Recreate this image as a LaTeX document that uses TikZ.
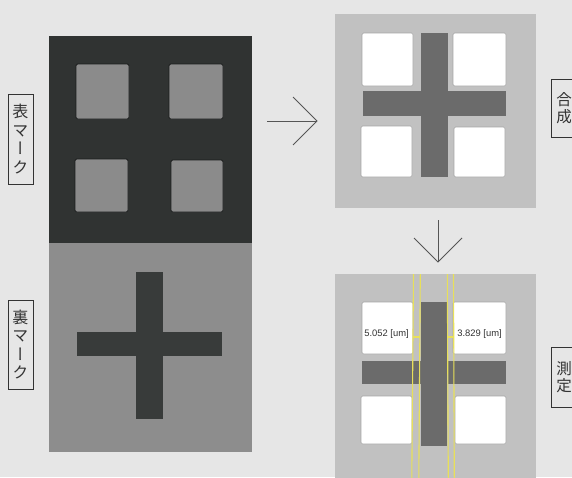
\documentclass[tikz,border=0pt]{standalone}
\usepackage{fontspec}
\newfontfamily\jpfont[RawFeature={+vert}]{Noto Sans CJK JP}
\newfontfamily\measfont{Liberation Sans}
\definecolor{bgc}{HTML}{E6E6E6}
\definecolor{darkpanel}{HTML}{303332}
\definecolor{graysq}{HTML}{8B8B8B}
\definecolor{sqedge}{HTML}{1C1E1E}
\definecolor{midpanel}{HTML}{8D8D8D}
\definecolor{darkcross}{HTML}{383B3A}
\definecolor{lightpanel}{HTML}{C1C1C1}
\definecolor{midcross}{HTML}{6B6B6B}
\definecolor{whiteedge}{HTML}{A5A5A5}
\definecolor{ylw}{HTML}{E8E05A}
\definecolor{txt}{HTML}{333333}
\definecolor{arrowc}{HTML}{555555}
\tikzset{
  graysquare/.style={fill=graysq,draw=sqedge,line width=0.9pt,rounded corners=1.5pt},
  whitesquare/.style={fill=white,draw=whiteedge,line width=0.6pt,rounded corners=1.5pt},
  lbl/.style={draw=txt,line width=0.6pt,fill=bgc,inner sep=0pt,text=txt,align=center},
  meas/.style={font=\measfont\fontsize{9.4}{10}\selectfont,text=txt,inner sep=0pt},
  yline/.style={draw=ylw,line width=1.1pt},
  arr/.style={draw=arrowc,line width=0.8pt}
}
\begin{document}
\begin{tikzpicture}[x=1pt,y=-1pt]
\useasboundingbox (0,0) rectangle (572,477);
\clip (0,0) rectangle (572,477);
\fill[bgc] (0,0) rectangle (572,477);
% ---- left panel
\fill[darkpanel] (49,36) rectangle (252,243);
\fill[midpanel] (49,243) rectangle (252,452);
\draw[graysquare] (76,64) rectangle (129,119);
\draw[graysquare] (169,64) rectangle (223,119);
\draw[graysquare] (75,159) rectangle (128,212);
\draw[graysquare] (171,160) rectangle (223,212);
\fill[darkcross] (136,272) rectangle (163,419);
\fill[darkcross] (77,332) rectangle (222,356);
% ---- top right panel
\fill[lightpanel] (335,14) rectangle (536,208);
\draw[whitesquare] (362,33) rectangle (413,86);
\draw[whitesquare] (453,33) rectangle (506,86);
\draw[whitesquare] (361,126) rectangle (412,177);
\draw[whitesquare] (454,127) rectangle (505,177);
\fill[midcross] (421,33) rectangle (448,177);
\fill[midcross] (363,91) rectangle (506,116);
% ---- bottom right panel
\fill[lightpanel] (335,274) rectangle (536,480);
\draw[whitesquare] (362,302) rectangle (413,354);
\draw[whitesquare] (453,302) rectangle (506,354);
\draw[whitesquare] (361,396) rectangle (412,444);
\draw[whitesquare] (455,396) rectangle (506,444);
\fill[midcross] (421,302) rectangle (447,446);
\fill[midcross] (362,361) rectangle (420.5,384);
\fill[midcross] (447.5,361) rectangle (506,384);
% yellow measurement lines
\draw[yline] (413.5,274) -- (411.8,478);
\draw[yline] (420.3,274) -- (418.8,478);
\draw[yline] (447.3,274) -- (448.3,478);
\draw[yline] (453.5,274) -- (454.3,478);
\draw[yline] (413,337) -- (419.6,337);
\draw[yline] (447.6,337) -- (453.7,337);
\node[meas] (m1) at (386.5,334.5) {5.052 [um]};
\node[meas] (m2) at (479.5,334.5) {3.829 [um]};
% ---- labels
\node[lbl,minimum width=25pt,minimum height=90pt,font=\jpfont\fontsize{16}{18.5}\selectfont] (front) at (20.5,139) {表\\マ\\ー\\ク};
\node[lbl,minimum width=25pt,minimum height=89pt,font=\jpfont\fontsize{16}{18.5}\selectfont] (back) at (20.5,344.5) {裏\\マ\\ー\\ク};
\node[lbl,minimum width=26pt,minimum height=58pt,font=\jpfont\fontsize{15.5}{17}\selectfont] (synth) at (564,108) {合\\成};
\node[lbl,minimum width=26pt,minimum height=60pt,font=\jpfont\fontsize{15.5}{17}\selectfont] (measure) at (564,377) {測\\定};
% ---- arrows
\coordinate (a1s) at (267,121);
\coordinate (a1e) at (317,121);
\coordinate (a1u) at (293,97);
\coordinate (a1d) at (293,145);
\draw[arr] (a1s) -- (a1e);
\draw[arr] (a1u) -- (a1e) -- (a1d);
\coordinate (a2s) at (438,220);
\coordinate (a2e) at (438,262);
\coordinate (a2l) at (414,238);
\coordinate (a2r) at (462,238);
\draw[arr] (a2s) -- (a2e);
\draw[arr] (a2l) -- (a2e) -- (a2r);
\end{tikzpicture}
\end{document}
